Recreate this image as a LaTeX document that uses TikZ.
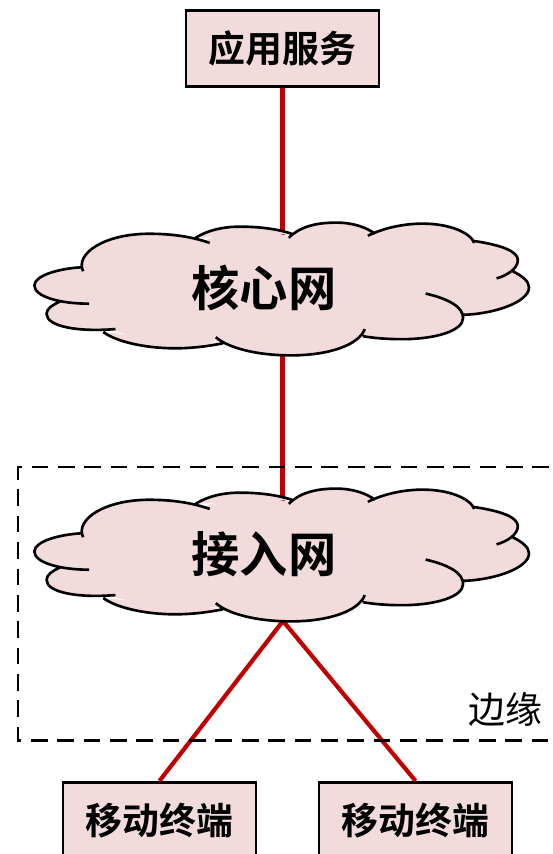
\documentclass[tikz,border=0pt]{standalone}
\usepackage{fontspec}
\newfontfamily\cjk[BoldFont=Noto Sans CJK SC Bold]{Noto Sans CJK SC}
\definecolor{cloudpink}{HTML}{F2DCDB}
\definecolor{linkred}{HTML}{C00000}
\tikzset{
	boxnode/.style={draw=black,fill=cloudpink,line width=1.5pt,minimum width=110pt,minimum height=43pt,inner sep=0pt,font=\cjk\bfseries\fontsize{21}{25}\selectfont},
	cloudtext/.style={inner sep=0pt,font=\cjk\bfseries\fontsize{27.5}{33}\selectfont},
	link/.style={draw=linkred,line width=2.4pt},
	edgeline/.style={line width=1.7pt,dash pattern=on 9.5pt off 5.5pt},
	cloudshape/.pic={
		\fill[cloudpink] (-182,-19) -- (-117,-53) -- (-64,-47) -- (-27,-60) -- (22,-52) -- (68,-64) -- (102,-53) -- (153,-63) -- (203,-46) -- (241,-18) -- (225,20) -- (193,26) -- (133,49) -- (95,46) -- (23,65) -- (-47,51) -- (-91,58) -- (-155,41) -- (-205,13) -- cycle;
		\path[fill=cloudpink,draw=black,line width=1.5pt]
			(-182,-17) .. controls (-190,-35) and (-160,-54) .. (-117,-54) .. controls (-90,-54) and (-72,-50) .. (-57,-45)
			(-71,-50) .. controls (-58,-58) and (-43,-61) .. (-27,-61) .. controls (-5,-61) and (12,-58) .. (24,-54)
			(21,-50) .. controls (33,-62) and (50,-65) .. (68,-65) .. controls (85,-65) and (98,-60) .. (106,-54)
			(99,-52) .. controls (115,-60) and (135,-64) .. (153,-64) .. controls (180,-64) and (200,-55) .. (204,-45)
			(203,-47) .. controls (230,-43) and (247,-37) .. (247,-28) .. controls (247,-20) and (237,-13) .. (226,-10)
			(242,-17) .. controls (252,-12) and (258,-7) .. (258,-1) .. controls (258,13) and (225,25) .. (193,26)
			(156,5) .. controls (178,10) and (193,18) .. (193,29) .. controls (193,42) and (165,50) .. (133,50) .. controls (118,50) and (105,49) .. (94,47)
			(96,40) .. controls (90,56) and (60,66) .. (23,66) .. controls (-12,66) and (-40,58) .. (-51,48)
			(-44,54) .. controls (-58,57) and (-75,59) .. (-91,59) .. controls (-122,59) and (-150,52) .. (-162,43)
			(-150,40) .. controls (-185,43) and (-218,38) .. (-218,25) .. controls (-218,20) and (-212,16) .. (-205,13)
			(-176,15) .. controls (-205,15) and (-230,8) .. (-230,-3) .. controls (-230,-13) and (-205,-20) .. (-182,-21);
	}
}
\begin{document}
\begin{tikzpicture}[x=0.02cm,y=-0.02cm]
	\useasboundingbox (0,0) rectangle (553,854);

	\coordinate (corelink) at (282.5,288);
	\coordinate (accesslink) at (282.5,554);
	\coordinate (accessfoot) at (283,621);

	\node[boxnode] (app) at (282.5,48.5) {应用服务};
	\node[boxnode] (termleft) at (159.5,820) {移动终端};
	\node[boxnode] (termright) at (415.5,820) {移动终端};

	\draw[link] (app) -- (corelink);
	\draw[link] (corelink) -- (accesslink);
	\draw[link] (accessfoot) -- (termleft.north);
	\draw[link] (accessfoot) -- (termright.north);

	\draw[edgeline] (549,467) -- (18,467) -- (18,740) -- (549,740);

	\pic[scale=1.0135] at (267.5,288.5) {cloudshape};
	\pic[scale=1.0135] at (267.5,554.5) {cloudshape};

	\node[cloudtext] (core) at (264,288) {核心网};
	\node[cloudtext] (access) at (264,554) {接入网};
	\node[inner sep=0pt,font=\cjk\fontsize{21}{25}\selectfont] (edge) at (505,709) {边缘};
\end{tikzpicture}
\end{document}
